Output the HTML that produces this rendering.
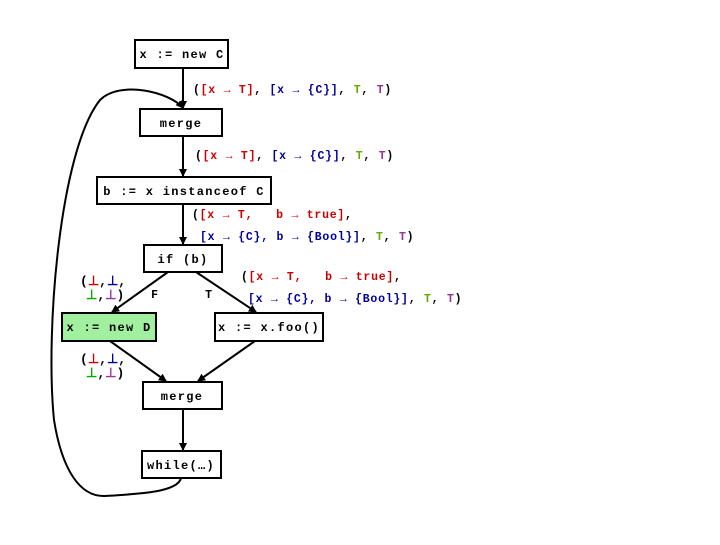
<!DOCTYPE html>
<html><head><style>
body{margin:0;background:#fff;}
svg text{font-family:"Liberation Mono",monospace;font-weight:bold;font-size:11.5px;letter-spacing:0.75px;white-space:pre;}
svg text.n{font-size:12px;letter-spacing:1.3px;}
svg text.b{font-size:13px;letter-spacing:0;}
</style></head><body>
<svg width="720" height="540" xmlns="http://www.w3.org/2000/svg">
<defs><marker id="a" markerWidth="8" markerHeight="8" refX="7" refY="4" orient="auto" markerUnits="userSpaceOnUse"><path d="M0,0 L8,4 L0,8z" fill="#000"/></marker></defs>
<g fill="#fff" stroke="#000" stroke-width="2">
<rect x="135" y="40" width="93" height="28"/>
<rect x="140" y="109" width="82" height="27"/>
<rect x="97" y="177" width="174" height="27"/>
<rect x="144" y="245" width="78" height="27"/>
<rect x="62" y="313" width="94" height="28" fill="#a0f0a0"/>
<rect x="215" y="313" width="108" height="28"/>
<rect x="143" y="382" width="79" height="27"/>
<rect x="142" y="451" width="79" height="27"/>
</g>
<g stroke="#000" stroke-width="2" fill="none" marker-end="url(#a)">
<line x1="183" y1="68" x2="183" y2="108"/>
<line x1="183" y1="136" x2="183" y2="176"/>
<line x1="183" y1="204" x2="183" y2="244"/>
<line x1="168" y1="272" x2="112" y2="312"/>
<line x1="196" y1="272" x2="256" y2="312"/>
<line x1="110" y1="341" x2="166" y2="381"/>
<line x1="255" y1="341" x2="198" y2="381"/>
<line x1="183" y1="409" x2="183" y2="450"/>
<path d="M181,478 C178,492 140,494 105,496 C80,497 62,470 54,420 C45,330 60,150 100,100 C120,80 170,92 183,108"/>
</g>
<g text-anchor="middle" fill="#000">
<text class="n" x="182" y="58">x := new C</text>
<text class="n" x="181" y="127">merge</text>
<text class="n" x="184" y="195">b := x instanceof C</text>
<text class="n" x="183" y="263">if (b)</text>
<text class="n" x="109" y="331">x := new D</text>
<text class="n" x="269" y="331">x := x.foo()</text>
<text class="n" x="182" y="400">merge</text>
<text class="n" x="181" y="469">while(…)</text>
<text x="155" y="298">F</text>
<text x="209" y="298">T</text>
</g>
<text x="193" y="93"><tspan>(</tspan><tspan fill="#cc0000">[x → T]</tspan><tspan>, </tspan><tspan fill="#000099">[x → {C}]</tspan><tspan>, </tspan><tspan fill="#66aa00">T</tspan><tspan>, </tspan><tspan fill="#993399">T</tspan><tspan>)</tspan></text>
<text x="195" y="159"><tspan>(</tspan><tspan fill="#cc0000">[x → T]</tspan><tspan>, </tspan><tspan fill="#000099">[x → {C}]</tspan><tspan>, </tspan><tspan fill="#66aa00">T</tspan><tspan>, </tspan><tspan fill="#993399">T</tspan><tspan>)</tspan></text>
<text x="192" y="218"><tspan>(</tspan><tspan fill="#cc0000">[x → T,&#160;&#160;&#160;b → true]</tspan><tspan>,</tspan></text>
<text x="200" y="240"><tspan fill="#000099">[x → {C}, b → {Bool}]</tspan><tspan>, </tspan><tspan fill="#66aa00">T</tspan><tspan>, </tspan><tspan fill="#993399">T</tspan><tspan>)</tspan></text>
<text x="241" y="280"><tspan>(</tspan><tspan fill="#cc0000">[x → T,&#160;&#160;&#160;b → true]</tspan><tspan>,</tspan></text>
<text x="248" y="302"><tspan fill="#000099">[x → {C}, b → {Bool}]</tspan><tspan>, </tspan><tspan fill="#66aa00">T</tspan><tspan>, </tspan><tspan fill="#993399">T</tspan><tspan>)</tspan></text>
<text class="b" x="80" y="285"><tspan>(</tspan><tspan fill="#cc0000">⊥</tspan><tspan>,</tspan><tspan fill="#000099">⊥</tspan><tspan>,</tspan></text>
<text class="b" x="86" y="299"><tspan fill="#00aa00">⊥</tspan><tspan>,</tspan><tspan fill="#993399">⊥</tspan><tspan>)</tspan></text>
<text class="b" x="80" y="363"><tspan>(</tspan><tspan fill="#cc0000">⊥</tspan><tspan>,</tspan><tspan fill="#000099">⊥</tspan><tspan>,</tspan></text>
<text class="b" x="86" y="377"><tspan fill="#00aa00">⊥</tspan><tspan>,</tspan><tspan fill="#993399">⊥</tspan><tspan>)</tspan></text>
</svg>
</body></html>
